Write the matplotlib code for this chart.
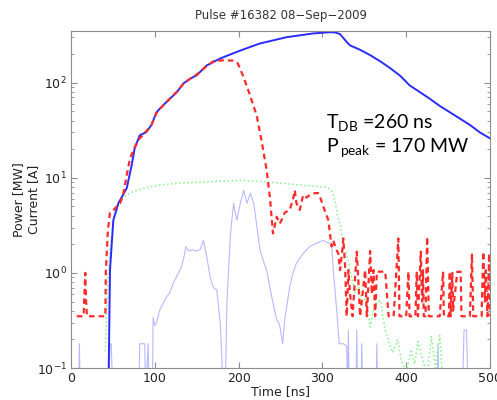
import matplotlib
matplotlib.use("Agg")
import matplotlib.pyplot as plt

# drive beam power (blue, solid)
power_t = [45, 46.5, 50.5, 56.5, 62, 66.5, 72.4, 76, 82, 90, 96, 102, 110, 118, 126, 134, 142,
           150, 162, 178, 202, 225, 257, 289, 309, 315, 321, 329, 333, 345, 357, 369, 381, 393,
           404, 416, 428, 440, 452, 464, 476, 488, 500]
power_v = [0.1, 1.07, 3.6, 5.4, 6.6, 7.8, 13.6, 20.5, 28, 30.3, 36, 49, 58, 68, 79, 98, 110,
           120, 152, 180, 218, 258, 301, 330, 340, 338, 325, 268, 247, 222, 195, 168, 142, 118,
           94, 80, 68, 57, 49, 42, 36, 30, 26]

# extracted power (red, dashed)
rf_t = [7, 15, 16, 17, 18, 19, 35, 41, 41.5, 42.6, 44, 46.5, 50, 54.5, 58.5, 62, 66.5, 70.4,
        76, 82, 90, 96, 102, 110, 118, 126, 134, 142, 150, 162, 170, 180, 193, 199, 205, 213.6,
        221.6, 227.6, 233.5, 237.5, 241, 245.5, 249, 252, 255, 261, 265, 267, 269, 273, 277,
        281, 285, 291, 295, 298, 301, 307, 311, 313, 316, 319, 321, 323, 325, 327, 329,
        331, 333, 336, 341, 343, 345, 351, 353, 357, 359, 361, 363, 365, 375, 379, 385,
        390.6, 392, 400, 402.6, 404, 411, 412.6, 414, 417.4, 419, 420, 421, 423, 425, 427,
        440, 444, 445, 451, 452, 453, 455, 456, 461, 465, 466, 476, 478.5, 480, 490, 492,
        494, 495, 497, 499, 500]
rf_v = [0.35, 0.35, 0.6, 1.0, 0.5, 0.35, 0.35, 0.35, 1.0, 1.6, 2.8, 4.3, 4.5, 5.0, 5.4, 6.5,
        10.7, 16, 21, 26, 31, 36, 48, 58, 68, 80, 97, 110, 122, 150, 168, 172, 171, 160, 120,
        74, 45, 24, 12, 6, 2.6, 3.9, 3.3, 3.7, 4.3, 4.6, 6.0, 7.4, 5.4, 4.6, 6.6, 6.2, 6.6,
        6.9, 6.9, 6.0, 5.0, 3.6, 1.9, 2.2, 1.8, 1.6, 1.07, 1.5, 2.3, 1.2, 0.35,
        1.07, 0.6, 0.35, 1.67, 0.8, 0.35, 1.07, 0.35, 1.7, 0.6, 1.07, 0.35, 1.03, 1.03, 0.35, 0.35,
        2.3, 0.35, 0.35, 1.03, 0.35, 0.35, 1.03, 0.35, 1.67, 0.5, 1.07, 0.35, 0.35, 2.4, 0.35,
        0.35, 1.03, 0.35, 0.35, 1.03, 0.35, 1.0, 0.4, 1.03, 1.03, 0.35, 0.35, 1.6, 0.35, 0.35, 1.67,
        0.5, 1.07, 0.35, 1.6, 0.35]

# gun current (green, dotted)
gun_t = [41, 42, 44, 46.5, 50, 55, 60, 66, 75, 90, 106, 130, 166, 202, 233, 250, 273, 295, 305,
         311, 315, 319, 321, 323, 325, 329, 333, 339, 343, 347, 352, 357, 362, 369, 375, 380,
         384, 390, 394, 400, 406, 410, 414, 420, 425, 430, 435, 440, 445]
gun_v = [0.15, 0.28, 0.88, 1.8, 3.2, 4.8, 5.8, 6.6, 7.2, 7.9, 8.4, 8.8, 9.1, 9.4, 9.1, 8.8, 8.4,
         8.1, 8.0, 7.4, 5.8, 3.6, 3.3, 2.6, 1.7, 1.6, 1.07, 0.62, 0.75, 0.48, 0.55, 0.27, 0.45,
         0.52, 0.25, 0.18, 0.145, 0.2, 0.12, 0.09, 0.15, 0.11, 0.19, 0.12, 0.08, 0.215, 0.1,
         0.22, 0.05]

# beam current (light blue, thin)
cur_t = [5, 9, 10, 11, 45, 46.5, 48, 50, 81, 82, 88, 89, 92, 93, 97, 98, 100, 102, 106, 110,
         114, 118, 122, 127, 132, 135, 137, 140, 145, 150, 154, 158, 162, 166, 170, 174, 178,
         180, 181, 184, 186, 190, 194, 196, 198, 202, 206, 210, 214, 218, 222, 225.5, 230, 233.5,
         239.5, 245.5, 248, 249.4, 252.6, 255, 261, 265, 269, 277, 285, 293, 301, 307, 311, 313,
         317, 320, 325, 329, 330, 331, 332, 340, 341, 342, 346, 347, 348, 364, 365, 366, 437,
         438, 439, 467, 469, 472, 474, 500]
cur_v = [0.05, 0.05, 0.18, 0.05, 0.05, 0.18, 0.18, 0.05, 0.05, 0.18, 0.18, 0.05, 0.18, 0.05,
         0.05, 0.34, 0.28, 0.3, 0.41, 0.48, 0.56, 0.62, 0.78, 0.95, 1.16, 1.5, 1.89, 1.7, 1.75,
         1.7, 1.75, 2.2, 1.48, 0.91, 0.7, 0.66, 0.3, 0.13, 0.05, 0.05, 0.48, 2.4, 5.4, 4.3, 3.6,
         5.4, 7.4, 5.4, 6.9, 5.4, 3.0, 1.75, 1.3, 1.07, 0.56, 0.32, 0.3, 0.27, 0.18, 0.32, 0.72,
         1.0, 1.27, 1.6, 1.9, 2.05, 2.2, 2.06, 2.06, 1.07, 0.41, 0.18, 0.18, 0.17, 0.05, 0.25,
         0.05, 0.05, 0.25, 0.05, 0.05, 0.18, 0.05, 0.05, 0.18, 0.05, 0.05, 0.18, 0.05, 0.05,
         0.25, 0.25, 0.05, 0.05]

plt.rcParams['mathtext.fontset'] = 'custom'
plt.rcParams['mathtext.rm'] = 'Lato'

fig = plt.figure(figsize=(4.97, 4.0), dpi=100)
ax = fig.add_axes([0.1429, 0.08, 0.843, 0.8425])

ax.plot(cur_t, cur_v, color='#b8b8ff', linewidth=0.8)
ax.plot(gun_t, gun_v, color='#8cf08c', linewidth=1.1, linestyle=':')
ax.plot(power_t, power_v, color='#2b2bff', linewidth=1.4)
ax.plot(rf_t, rf_v, color='#ff2a2a', linewidth=1.6, linestyle=(0, (2.5, 1.8)))

ax.set_yscale('log')
ax.set_xlim(0, 500)
ax.set_ylim(0.1, 350)
ax.set_xticks([0, 100, 200, 300, 400, 500])

for s in ax.spines.values():
    s.set_color('#8c8c8c')
ax.tick_params(which='both', direction='in', top=True, right=True, colors='#8c8c8c',
               labelcolor='#222222', labelsize=9)
ax.tick_params(which='major', length=4, pad=3)
ax.tick_params(which='minor', length=2)

ax.set_title('Pulse #16382 08\u2212Sep\u22122009', fontsize=8.5, color='#333333', pad=9)
ax.set_xlabel('Time [ns]', fontsize=9, color='#222222', labelpad=0)
ax.set_ylabel('Power [MW]\nCurrent [A]', fontsize=9, color='#222222')
ax.yaxis.set_label_coords(-0.073, 0.5)

ax.text(304, 33, r'T$_{\mathrm{DB}}$ =260 ns', fontsize=14, family='Lato', va='baseline')
ax.text(304, 18.2, r'P$_{\,\mathrm{peak}}$ = 170 MW', fontsize=14, family='Lato', va='baseline')

fig.savefig('out.png', dpi=100)
